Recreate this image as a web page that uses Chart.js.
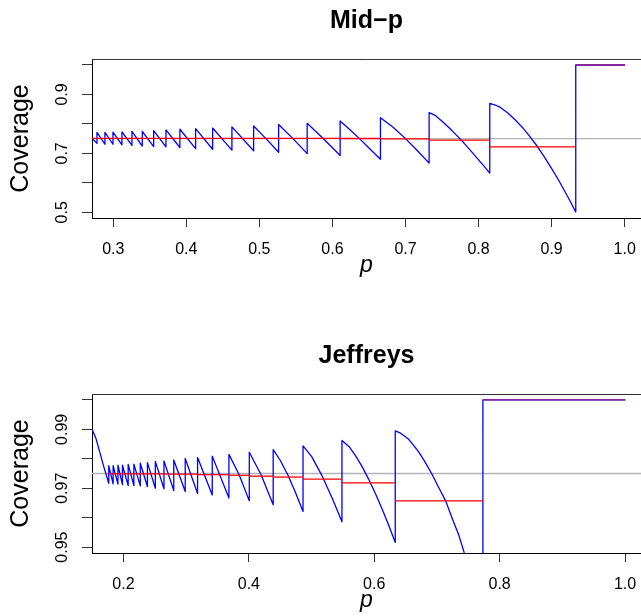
<!DOCTYPE html>
<html><head><meta charset="utf-8">
<script src="https://cdn.jsdelivr.net/npm/chart.js@4.4.1/dist/chart.umd.min.js"></script>
<style>
html,body{margin:0;padding:0;background:#fff;width:641px;height:616px;overflow:hidden}
canvas{display:block}
</style></head><body>
<canvas id="midp" width="641" height="335"></canvas>
<canvas id="jeff" width="641" height="335"></canvas>
<script>
// ---------- Panel 1: Mid-p ----------
const midpTitle = "Mid\u2212p";
const midpJumpP  = [0.2777,0.2886,0.2996,0.3119,0.3256,0.3397,0.3553,0.3721,0.3912,0.4127,0.4360,0.4624,0.4921,0.5263,0.5654,0.6105,0.6657,0.7323,0.8153,0.9330];
const midpPeak   = [0.771,0.771,0.772,0.773,0.775,0.775,0.777,0.780,0.782,0.784,0.786,0.790,0.793,0.798,0.802,0.810,0.821,0.838,0.870,1.000];
const midpTrough = [0.734,0.731,0.731,0.729,0.727,0.725,0.723,0.722,0.720,0.716,0.714,0.711,0.709,0.704,0.699,0.693,0.680,0.667,0.633,0.501];
const midpCurveP = [0.2709,0.5090,0.5460,0.5880,0.6240,0.6370,0.6510,0.6830,0.7000,0.7160,
                    0.7400,0.7500,0.7600,0.7700,0.7800,0.7900,0.8000,0.8080,
                    0.8220,0.8300,0.8400,0.8500,0.8600,0.8700,0.8800,0.8900,0.9000,0.9100,0.9200,0.9270,1.0000];
const midpCurveC = [0.751,0.750,0.750,0.749,0.780,0.750,0.716,0.789,0.750,0.710,
                    0.830,0.809,0.786,0.761,0.735,0.707,0.678,0.655,
                    0.865,0.856,0.837,0.814,0.788,0.758,0.725,0.688,0.648,0.607,0.562,0.530,1.000];
const midpRedBreaks = [0.2709,0.6105,0.6657,0.7323,0.8153,0.9330,1.0000];
const midpRedLevel  = [0.7512,0.7505,0.7490,0.7450,0.7220,1.0000];
const midpNominal = 0.75;
const midpXRange = [0.2709, 1.0223];
const midpYRange = [0.4807, 1.0203];
const midpXTicks = [0.3,0.4,0.5,0.6,0.7,0.8,0.9,1.0];
const midpXLabels = ["0.3","0.4","0.5","0.6","0.7","0.8","0.9","1.0"];
const midpYTicks = [0.5,0.6,0.7,0.8,0.9,1.0];
const midpYLabels = ["0.5","","0.7","","0.9",""];

// ---------- Panel 2: Jeffreys ----------
const jeffTitle = "Jeffreys";
const jeffJumpP  = [0.1765,0.1835,0.1912,0.1984,0.2075,0.2166,0.2268,0.2382,0.2508,0.2646,0.2802,0.2985,0.3182,0.3416,0.3682,0.4007,0.4388,0.4864,0.5485,0.6335,0.7733];
const jeffPeak   = [0.9777,0.9777,0.9778,0.9778,0.9781,0.9782,0.9785,0.9787,0.9791,0.9793,0.9796,0.9801,0.9804,0.9809,0.9815,0.9822,0.9831,0.9844,0.9862,0.9895,1.0000];
const jeffTrough = [0.9717,0.9715,0.9714,0.9712,0.9709,0.9709,0.9708,0.9706,0.9700,0.9698,0.9692,0.9689,0.9682,0.9677,0.9667,0.9657,0.9644,0.9621,0.9586,0.9516,0.9300];
const jeffCurveP = [0.1498,0.1560,0.1625,0.1690,0.3845,0.4197,0.4500,0.4626,0.4740,
                    0.5000,0.5170,0.5330,0.5600,0.5700,0.5800,0.5910,0.6020,0.6120,0.6220,
                    0.6420,0.6550,0.6700,0.6800,0.6915,0.7020,0.7139,0.7250,0.7350,0.7436,0.7550,1.0000];
const jeffCurveC = [0.9900,0.9870,0.9820,0.9770,0.9746,0.9745,0.9795,0.9743,0.9687,
                    0.9808,0.9741,0.9666,0.9841,0.9811,0.9776,0.9731,0.9681,0.9632,0.9580,
                    0.9887,0.9866,0.9826,0.9793,0.9750,0.9706,0.9657,0.9594,0.9540,0.9480,0.9422,1.0000];
const jeffRedBreaks = [0.1765,0.2646,0.3182,0.3682,0.4007,0.4388,0.4864,0.5485,0.6335,0.7733,1.0000];
const jeffRedLevel  = [0.9749,0.9748,0.9746,0.9744,0.9741,0.9738,0.9731,0.9718,0.9657,1.0000];
const jeffNominal = 0.975;
const jeffXRange = [0.1498, 1.0255];
const jeffYRange = [0.948, 1.002];
const jeffXTicks = [0.2,0.4,0.6,0.8,1.0];
const jeffXLabels = ["0.2","0.4","0.6","0.8","1.0"];
const jeffYTicks = [0.95,0.96,0.97,0.98,0.99,1.00];
const jeffYLabels = ["0.95","","0.97","","0.99",""];

// ---------- builders ----------
const FONT = "'Liberation Sans', Arial, Helvetica, sans-serif";

function bluePoints(jumpP, peak, trough, curveP, curveC) {
  const pts = [];
  curveP.forEach((p, i) => pts.push({x: p, y: curveC[i]}));
  jumpP.forEach((p, i) => { pts.push({x: p, y: trough[i]}); pts.push({x: p, y: peak[i]}); });
  return pts.sort((a, b) => a.x - b.x);
}
function stepPoints(breaks, levels) {
  const pts = [];
  levels.forEach((v, i) => {
    pts.push({x: breaks[i], y: v}, {x: breaks[i + 1], y: v}, {x: breaks[i + 1], y: null});
  });
  return pts;
}
const frameTop = {
  id: 'frameTop',
  afterDatasetsDraw(chart) {
    const {ctx, chartArea: {left, top, right}} = chart;
    ctx.save();
    ctx.strokeStyle = '#333';
    ctx.lineWidth = 1;
    ctx.beginPath();
    ctx.moveTo(left, top + 0.5);
    ctx.lineTo(right, top + 0.5);
    ctx.stroke();
    ctx.restore();
  }
};

function makeChart(id, d) {
  new Chart(document.getElementById(id), {
    type: 'line',
    data: {
      datasets: [
        { data: stepPoints(d.redBreaks, d.redLevel), borderColor: 'red', borderWidth: 1.3,
          pointRadius: 0, spanGaps: false, tension: 0,
          segment: { borderColor: c => (c.p0.parsed.y >= 1 && c.p1.parsed.y >= 1) ? '#a01f7c' : 'red' } },
        { data: bluePoints(d.jumpP, d.peak, d.trough, d.curveP, d.curveC), borderColor: '#0000ff',
          borderWidth: 1.3, pointRadius: 0, tension: 0, borderJoinStyle: 'round', borderCapStyle: 'round' },
        { data: [{x: d.xRange[0], y: d.nominal}, {x: d.xRange[1], y: d.nominal}],
          borderColor: '#b4b4b4', borderWidth: 1.3, pointRadius: 0 }
      ]
    },
    options: {
      responsive: false, animation: false, events: [],
      layout: { padding: 0 },
      plugins: {
        legend: { display: false }, tooltip: { enabled: false },
        title: { display: true, text: d.title, fullSize: false, color: '#000',
                 font: { family: FONT, size: 25, weight: 'bold' }, padding: { top: 6.3, bottom: 22.7 } }
      },
      scales: {
        x: {
          type: 'linear', min: d.xRange[0], max: d.xRange[1],
          afterBuildTicks: s => { s.ticks = d.xTicks.map(v => ({value: v})); },
          afterFit: s => { s.height = 117; s.paddingLeft = 0; s.paddingRight = 0; },
          ticks: { autoSkip: false, minRotation: 0, maxRotation: 0, padding: 13, color: '#000',
                   font: { family: FONT, size: 16 }, callback: (v, i) => d.xLabels[i] },
          grid: { drawOnChartArea: false, drawTicks: true, tickLength: 9, color: '#333' },
          border: { display: true, color: '#000', width: 1 },
          title: { display: true, text: 'p', color: '#000',
                   font: { family: FONT, size: 23, style: 'italic' }, padding: { top: 0, bottom: 55.5 } }
        },
        y: {
          type: 'linear', min: d.yRange[0], max: d.yRange[1],
          afterBuildTicks: s => { s.ticks = d.yTicks.map(v => ({value: v})); },
          afterFit: s => { s.width = 92; s.paddingTop = 0; s.paddingBottom = 0; },
          ticks: { autoSkip: false, minRotation: 90, maxRotation: 90, crossAlign: 'center',
                   padding: d.yPad, color: '#000', font: { family: FONT, size: 16 },
                   callback: (v, i) => d.yLabels[i] },
          grid: { drawOnChartArea: false, drawTicks: true, tickLength: 10, color: '#333' },
          border: { display: true, color: '#000', width: 1 },
          title: { display: true, text: 'Coverage', color: '#000',
                   font: { family: FONT, size: 25 }, padding: { top: 6.5, bottom: 0 } }
        }
      }
    },
    plugins: [frameTop]
  });
}

makeChart('midp', {
  title: midpTitle, jumpP: midpJumpP, peak: midpPeak, trough: midpTrough,
  curveP: midpCurveP, curveC: midpCurveC, redBreaks: midpRedBreaks, redLevel: midpRedLevel,
  nominal: midpNominal, xRange: midpXRange, yRange: midpYRange,
  xTicks: midpXTicks, xLabels: midpXLabels, yTicks: midpYTicks, yLabels: midpYLabels, yPad: 8.1
});
makeChart('jeff', {
  title: jeffTitle, jumpP: jeffJumpP, peak: jeffPeak, trough: jeffTrough,
  curveP: jeffCurveP, curveC: jeffCurveC, redBreaks: jeffRedBreaks, redLevel: jeffRedLevel,
  nominal: jeffNominal, xRange: jeffXRange, yRange: jeffYRange,
  xTicks: jeffXTicks, xLabels: jeffXLabels, yTicks: jeffYTicks, yLabels: jeffYLabels, yPad: 3.6
});
</script>
</body></html>
